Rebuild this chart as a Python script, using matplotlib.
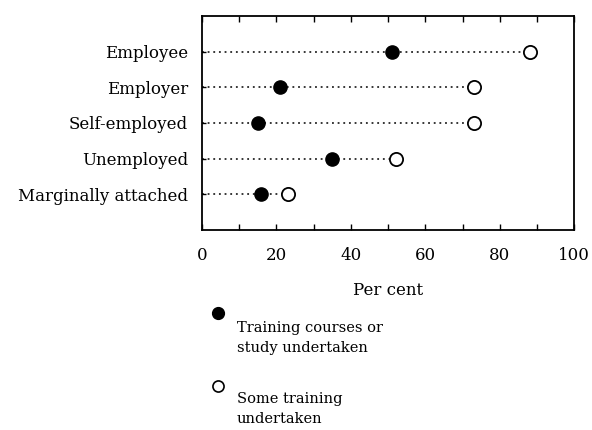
import matplotlib.pyplot as plt
from matplotlib.lines import Line2D
from matplotlib.ticker import MultipleLocator

plt.rcParams['font.family'] = ['DejaVu Serif']

categories = ['Employee', 'Employer', 'Self-employed', 'Unemployed',
              'Marginally attached']
courses = [51, 21, 15, 35, 16]       # training courses or study undertaken
some_training = [88, 73, 73, 52, 23]  # some training undertaken

fontsize = 12

fig = plt.figure(figsize=(5.92, 4.30), dpi=100)
ax = fig.add_axes([0.341, 0.465, 0.629, 0.498])

ypos = list(range(len(categories)))
for y, v in zip(ypos, some_training):
    ax.plot([0, v], [y, y], color='black', linestyle=(0, (1.2, 2.5)),
            linewidth=1.1, zorder=1)

ax.plot(some_training, ypos, 'o', markersize=9.5, markerfacecolor='white',
        markeredgecolor='black', markeredgewidth=1.3, linestyle='none', zorder=3)
ax.plot(courses, ypos, 'o', markersize=9.5, color='black', linestyle='none',
        zorder=3)

ax.set_xlim(0, 100)
ax.set_ylim(len(categories), -1)
ax.set_yticks(ypos)
ax.set_yticklabels(categories, fontsize=fontsize)
ax.xaxis.set_major_locator(MultipleLocator(20))
ax.xaxis.set_minor_locator(MultipleLocator(10))
ax.tick_params(axis='x', labelsize=fontsize, pad=12)
ax.tick_params(which='both', direction='in', top=True, right=False,
               length=4, width=1)
ax.tick_params(axis='y', length=3, pad=10)
ax.set_xlabel('Per cent', fontsize=fontsize, labelpad=13)
for s in ax.spines.values():
    s.set_linewidth(1.3)

# legend, drawn below the axes
legend_fs = 10.5
fig.add_artist(Line2D([218 / 592], [1 - 313 / 430], marker='o', markersize=8.5,
                      color='black', transform=fig.transFigure))
fig.text(237 / 592, 1 - 338 / 430, 'Training courses or\nstudy undertaken',
         fontsize=legend_fs, va='center', ha='left', linespacing=1.55)
fig.add_artist(Line2D([218 / 592], [1 - 386 / 430], marker='o', markersize=8,
                      markerfacecolor='white', markeredgecolor='black',
                      markeredgewidth=1.2, transform=fig.transFigure))
fig.text(237 / 592, 1 - 409 / 430, 'Some training\nundertaken',
         fontsize=legend_fs, va='center', ha='left', linespacing=1.55)

fig.savefig('out.png', dpi=100)
